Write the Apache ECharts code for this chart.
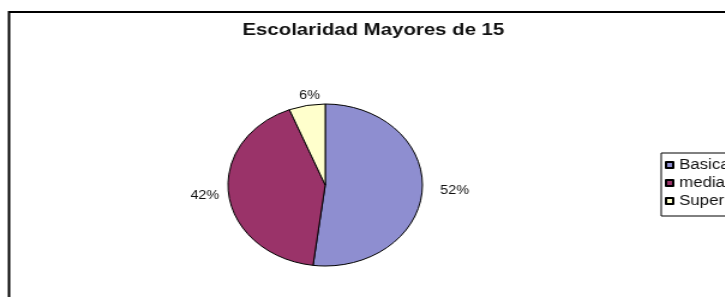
<!DOCTYPE html>
<html>
<head>
<meta charset="utf-8">
<script src="https://cdn.jsdelivr.net/npm/echarts@6/dist/echarts.min.js"></script>
<style>
html,body{margin:0;padding:0;background:#fff;}
#wrap{width:725px;height:297px;overflow:hidden;position:relative;}
#chart{width:604px;height:297px;transform:scaleX(1.2);transform-origin:0 0;position:absolute;left:0;top:0;}
</style>
</head>
<body>
<div id="wrap"><div id="chart"></div></div>
<script>
var titleText = 'Escolaridad Mayores de 15';
var categories = ['Basica', 'media', 'Superior'];
var values = [52, 42, 6];
var colors = ['#8e8ed0', '#9a3369', '#ffffcc'];

// label nudges (styling only, in px of the unscaled canvas)
var labelNudge = {'media': [7, 0], 'Superior': [21, -4]};

var chart = echarts.init(document.getElementById('chart'), null, {renderer: 'canvas'});
var data = categories.map(function (c, i) {
  var d = {name: c, value: values[i], itemStyle: {color: colors[i]}};
  if (labelNudge[c]) d.label = {offset: labelNudge[c]};
  return d;
});
chart.setOption({
  animation: false,
  backgroundColor: '#fff',
  title: {
    text: titleText,
    left: 202,
    top: 22,
    padding: 0,
    textStyle: {fontFamily: 'Liberation Sans, Arial, sans-serif', fontWeight: 'bold', fontSize: 17, color: '#111'}
  },
  legend: {
    orient: 'vertical',
    left: 551,
    top: 153,
    padding: [5, 20, 8, 3],
    borderColor: '#000',
    borderWidth: 1,
    itemWidth: 6,
    itemHeight: 6,
    itemGap: 4,
    icon: 'rect',
    textStyle: {fontFamily: 'Liberation Sans, Arial, sans-serif', fontSize: 14, color: '#111', lineHeight: 14},
    data: categories
  },
  graphic: [{
    type: 'rect',
    shape: {x: 7.5, y: 12, width: 1000, height: 1000},
    style: {fill: 'none', stroke: '#000', lineWidth: 2},
    z: -1
  }],
  series: [{
    type: 'pie',
    center: [271, 185],
    radius: 81,
    startAngle: 90,
    clockwise: true,
    data: data,
    itemStyle: {borderColor: '#000', borderWidth: 1},
    label: {
      show: true,
      position: 'outside',
      formatter: '{c}%',
      fontFamily: 'Liberation Sans, Arial, sans-serif',
      fontSize: 12,
      color: '#111'
    },
    labelLine: {show: false, length: 6, length2: 4},
    emphasis: {disabled: true}
  }]
});
</script>
</body>
</html>
